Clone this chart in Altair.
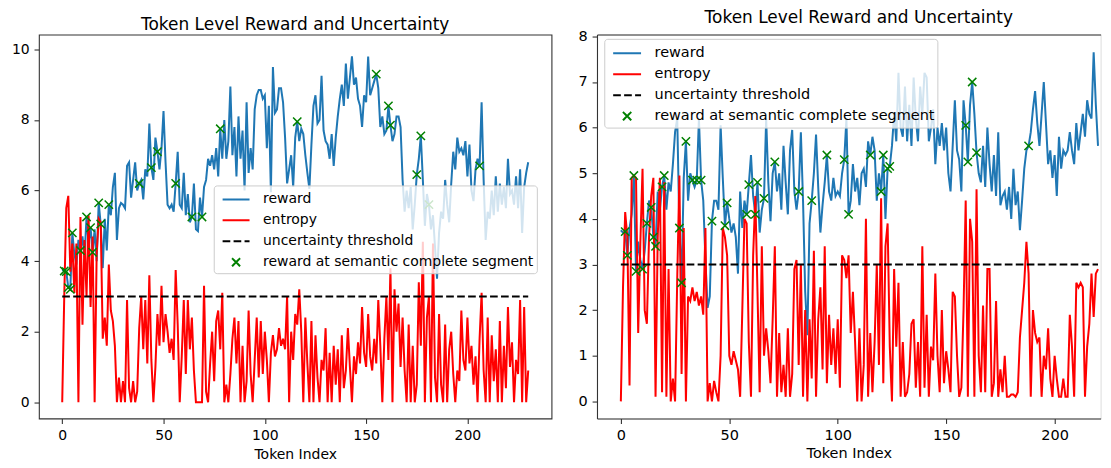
import altair as alt
import pandas as pd

# ---------------- data ----------------
L_REWARD = [
    3.75, 3.72, 3.70, 3.25, 3.20, 4.80, 4.20, 3.90, 4.60, 4.30,
    4.70, 4.10, 5.25, 4.50, 4.95, 4.25, 4.90, 4.00, 5.65, 5.05,
    3.80, 5.20, 4.30, 5.60, 5.30, 6.10, 6.50, 4.60, 5.50, 5.65,
    5.60, 5.50, 6.70, 6.80, 5.80, 6.30, 6.80, 6.00, 6.20, 6.30,
    5.75, 6.60, 6.40, 7.90, 6.65, 6.30, 7.50, 7.10, 6.60, 7.20,
    8.25, 6.80, 5.60, 5.50, 5.60, 5.40, 6.20, 7.10, 5.60, 5.50,
    6.50, 5.30, 5.90, 5.10, 5.25, 6.20, 4.90, 4.85, 5.80, 5.25,
    6.10, 6.30, 6.90, 6.70, 7.00, 6.60, 7.20, 6.40, 7.75, 6.90,
    8.00, 6.90, 7.40, 8.95, 7.00, 7.80, 6.40, 8.10, 6.90, 7.70,
    6.00, 8.50, 6.50, 7.20, 6.60, 8.30, 8.70, 8.85, 8.85, 8.60,
    8.70, 7.20, 8.40, 5.95, 9.50, 8.20, 8.30, 8.90, 8.90, 8.50,
    7.50, 6.20, 6.60, 7.00, 6.10, 7.50, 7.95, 7.40, 7.75, 7.60,
    7.00, 6.50, 6.05, 7.30, 8.40, 8.70, 7.90, 8.00, 9.25, 7.70,
    7.40, 7.30, 6.90, 7.60, 6.70, 7.50, 8.10, 8.60, 9.00, 8.40,
    9.60, 8.60, 9.20, 9.80, 9.00, 9.20, 8.60, 8.40, 7.80, 8.70,
    8.50, 9.80, 8.70, 8.90, 9.10, 9.30, 8.90, 7.80, 8.10, 7.60,
    7.70, 8.40, 7.85, 7.40, 7.60, 8.10, 8.10, 7.80, 6.30, 5.40,
    6.00, 5.50, 6.10, 4.90, 5.60, 6.45, 6.90, 7.55, 6.30, 5.00,
    5.90, 5.60, 4.90, 5.30, 4.40, 3.50, 4.80, 5.40, 5.20, 6.30,
    5.60, 5.10, 6.20, 7.10, 6.60, 7.50, 7.10, 7.20, 7.00, 7.40,
    6.40, 7.30, 6.00, 5.70, 6.60, 6.90, 6.70, 8.50, 6.30, 4.60,
    5.40, 5.20, 6.00, 5.30, 6.40, 5.40, 6.20, 5.60, 6.10, 5.50,
    6.90, 5.90, 6.00, 5.60, 6.40, 5.50, 6.60, 4.80, 6.10, 6.50,
    6.80,
]
L_ENTROPY = [
    0.00, 3.00, 5.50, 5.85, 3.70, 4.50, 3.10, 4.50, 0.00, 5.25,
    2.20, 4.60, 3.00, 5.30, 2.70, 4.70, 0.00, 4.20, 5.20, 5.10,
    1.80, 2.40, 1.60, 3.90, 2.60, 2.30, 1.60, 0.00, 0.70, 0.00,
    0.60, 0.00, 2.90, 0.40, 0.00, 0.60, 0.00, 0.30, 2.10, 3.00,
    1.50, 2.90, 1.10, 3.60, 1.20, 0.00, 1.00, 2.50, 1.60, 3.30,
    1.70, 2.50, 2.00, 1.40, 1.80, 1.20, 3.75, 2.20, 0.00, 1.30,
    2.90, 0.80, 2.90, 1.50, 2.40, 0.90, 0.00, 0.00, 0.00, 0.00,
    3.30, 0.30, 0.00, 1.10, 2.00, 0.60, 2.30, 2.60, 1.50, 3.10,
    0.00, 0.50, 0.00, 0.80, 1.80, 2.40, 1.10, 2.30, 0.00, 1.60,
    0.00, 0.60, 2.60, 0.80, 0.00, 1.20, 2.40, 0.70, 2.30, 0.80,
    2.00, 1.20, 0.00, 1.40, 1.90, 1.30, 1.50, 2.10, 1.60, 1.80,
    1.50, 3.00, 0.00, 2.00, 1.20, 2.50, 2.20, 3.20, 2.00, 0.00,
    2.40, 1.10, 0.00, 2.30, 0.00, 1.90, 0.70, 0.00, 1.20, 0.90,
    2.10, 0.00, 1.40, 0.00, 1.60, 0.50, 1.50, 0.00, 1.90, 0.40,
    0.90, 2.10, 1.00, 0.00, 1.30, 0.80, 1.70, 1.10, 2.70, 1.40,
    1.00, 2.50, 1.30, 0.90, 1.80, 1.10, 2.90, 1.60, 0.00, 1.80,
    3.00, 1.20, 3.80, 0.00, 3.20, 2.00, 2.80, 1.00, 2.40, 0.90,
    0.00, 2.20, 0.00, 1.60, 0.00, 0.50, 3.40, 1.60, 4.55, 0.00,
    2.40, 3.00, 0.00, 4.50, 0.70, 0.00, 2.50, 0.50, 0.00, 2.20,
    0.00, 1.50, 2.00, 0.80, 0.00, 0.90, 0.60, 2.60, 1.20, 0.90,
    2.40, 1.10, 1.60, 0.50, 1.30, 0.00, 1.80, 3.10, 0.90, 0.00,
    2.40, 0.00, 1.90, 0.60, 1.50, 0.00, 2.30, 0.00, 1.60, 0.40,
    2.70, 1.00, 1.70, 0.00, 1.20, 0.80, 2.90, 0.00, 2.70, 0.00,
    0.90,
]
L_MARKS = [1, 2, 3, 4, 5, 9, 12, 14, 15, 18, 19, 23, 38, 44, 47, 56, 64, 69,
           78, 116, 155, 161, 162, 175, 177, 181, 206]

R_REWARD = [
    3.75, 3.70, 3.72, 3.20, 3.80, 4.10, 4.95, 2.85, 3.50, 3.10,
    2.90, 3.30, 3.90, 4.40, 4.25, 3.60, 3.40, 4.60, 4.20, 4.70,
    4.95, 4.20, 4.80, 4.60, 5.20, 5.90, 6.20, 3.80, 2.60, 4.90,
    5.70, 4.40, 5.00, 4.85, 4.70, 4.85, 6.20, 4.85, 4.40, 3.10,
    2.05, 2.30, 3.95, 4.40, 4.40, 4.20, 6.05, 4.90, 3.85, 4.35,
    4.00, 3.70, 3.90, 3.60, 2.80, 4.60, 3.80, 4.40, 4.10, 4.75,
    5.40, 4.50, 4.10, 4.80, 3.70, 4.20, 4.45, 6.20, 4.80, 3.95,
    5.00, 5.25, 4.60, 5.00, 4.20, 5.60, 4.80, 4.10, 5.50, 5.95,
    4.60, 4.20, 4.60, 5.90, 4.40, 2.40, 1.45, 3.90, 4.40, 5.00,
    5.85, 4.70, 3.70, 4.30, 4.80, 5.40, 4.60, 4.40, 4.90, 4.50,
    4.60, 4.50, 5.00, 5.30, 6.20, 4.10, 4.40, 5.20, 4.60, 4.90,
    4.30, 5.00, 5.10, 4.70, 5.70, 5.40, 5.80, 5.50, 4.40, 5.00,
    4.60, 5.40, 4.00, 5.10, 5.15, 5.60, 6.30, 5.70, 7.20, 6.00,
    5.80, 6.90, 5.70, 6.50, 5.60, 7.10, 6.20, 5.70, 6.90, 6.30,
    7.20, 7.10, 5.70, 6.00, 6.40, 5.20, 6.00, 5.60, 6.10, 5.50,
    6.00, 5.00, 4.60, 5.60, 6.60, 5.50, 5.30, 4.60, 6.60, 6.05,
    5.25, 6.50, 7.00, 6.30, 5.45, 5.00, 4.80, 5.60, 4.70, 6.00,
    5.20, 4.60, 5.40, 4.50, 5.90, 4.30, 4.50, 4.60, 4.20, 4.70,
    4.00, 5.10, 4.30, 4.60, 3.75, 4.40, 5.10, 5.50, 5.60, 5.90,
    6.40, 6.80, 6.10, 5.60, 6.30, 7.00, 6.10, 5.20, 5.50, 4.90,
    5.40, 4.50, 5.80, 5.10, 5.50, 5.40, 5.50, 5.90, 5.50, 5.20,
    6.10, 5.50, 5.90, 6.30, 5.80, 6.60, 6.30, 6.20, 7.65, 6.50,
    5.60,
]
R_ENTROPY = [
    0.00, 2.50, 4.15, 3.60, 0.35, 4.90, 4.95, 4.90, 1.50, 3.50,
    5.10, 2.00, 1.70, 3.60, 4.50, 4.90, 0.10, 3.60, 4.90, 0.20,
    4.80, 0.10, 2.90, 0.00, 0.50, 0.00, 2.70, 4.95, 0.60, 3.80,
    0.00, 2.30, 2.20, 2.50, 2.20, 2.40, 2.10, 2.30, 1.90, 3.80,
    0.00, 0.40, 0.00, 0.45, 0.20, 0.00, 1.00, 3.80, 3.60, 3.20,
    1.00, 0.80, 1.10, 0.90, 0.70, 0.10, 2.00, 4.00, 3.90, 1.30,
    0.10, 3.20, 4.50, 2.40, 0.20, 3.40, 1.00, 1.60, 1.10, 0.40,
    1.80, 3.40, 0.10, 1.50, 0.20, 0.80, 0.10, 1.60, 0.10, 0.60,
    2.90, 3.10, 0.80, 3.00, 0.10, 2.00, 0.00, 1.80, 0.50, 3.30,
    0.10, 1.80, 2.50, 0.70, 3.40, 0.40, 1.90, 0.80, 1.60, 0.60,
    1.80, 0.30, 3.20, 3.10, 2.70, 3.20, 1.50, 2.40, 1.30, 0.00,
    1.60, 0.00, 0.80, 4.00, 0.10, 1.50, 0.20, 1.30, 3.00, 0.80,
    4.45, 0.40, 3.40, 3.90, 1.20, 0.00, 2.90, 1.20, 2.60, 0.10,
    1.30, 0.10, 0.20, 0.60, 1.70, 1.80, 0.30, 1.30, 0.10, 3.40,
    0.30, 1.90, 0.10, 1.20, 0.90, 2.80, 1.00, 0.20, 2.00, 0.40,
    1.10, 0.70, 0.20, 2.40, 2.30, 1.00, 0.10, 0.30, 2.00, 4.40,
    0.10, 4.00, 3.50, 0.10, 4.65, 1.00, 0.20, 2.10, 0.20, 2.90,
    2.90, 0.10, 0.40, 2.20, 0.10, 0.70, 0.20, 1.00, 0.10, 0.10,
    0.15, 0.15, 0.10, 0.20, 1.40, 2.00, 2.60, 3.50, 2.80, 0.10,
    2.00, 1.50, 1.30, 1.40, 0.10, 1.00, 0.70, 1.60, 0.50, 0.10,
    1.00, 0.50, 0.10, 0.10, 0.50, 0.10, 0.10, 1.90, 1.20, 0.10,
    2.60, 2.50, 2.60, 2.50, 0.10, 1.20, 1.70, 2.80, 1.85, 2.80,
    2.90,
]
R_MARKS = [2, 3, 6, 7, 10, 12, 14, 15, 16, 19, 20, 27, 28, 30, 33, 35, 37, 42,
           48, 49, 58, 59, 62, 63, 66, 71, 82, 88, 95, 103, 105, 115, 120, 121,
           123, 124, 159, 160, 162, 164, 188]

THRESHOLD = 3.0
TITLE = "Token Level Reward and Uncertainty"
X_TITLE = "Token Index"
X_TICKS = [0, 50, 100, 150, 200]
L_Y_TICKS = [0, 2, 4, 6, 8, 10]
R_Y_TICKS = [0, 1, 2, 3, 4, 5, 6, 7, 8]

SERIES = ["reward", "entropy", "uncertainty threshold",
          "reward at semantic complete segment"]
COLORS = ["#1f77b4", "#ff0000", "#000000", "#008000"]

# ---------------- styling ----------------
FONT = "DejaVu Sans"
LINE_SYM = "M-1.33,0H1.33"
X_SYM = "M-0.4,-0.4L0.4,0.4M0.4,-0.4L-0.4,0.4"
SHAPES = [LINE_SYM, LINE_SYM, LINE_SYM, X_SYM]
DASHES = [[1, 0], [1, 0], [7.7, 3.3], [1, 0]]
AX = "#333333"


def panel(reward, entropy, marks, xdom, ydom, yticks, w, h, lx, ly, fs,
          title_dx, title_offset, framed):
    df_r = pd.DataFrame({"i": list(range(len(reward))), "v": reward,
                         "series": SERIES[0]})
    df_e = pd.DataFrame({"i": list(range(len(entropy))), "v": entropy,
                         "series": SERIES[1]})
    df_t = pd.DataFrame({"i": [0], "i2": [max(len(reward), len(entropy)) - 1],
                         "v": [THRESHOLD], "series": [SERIES[2]]})
    df_m = pd.DataFrame({"i": marks, "v": [reward[k] for k in marks],
                         "series": SERIES[3]})

    sym = fs * 1.45
    leg = alt.Legend(
        title=None, orient="none", legendX=lx, legendY=ly,
        labelFont=FONT, labelFontSize=fs, labelColor="#000000", labelLimit=600,
        symbolSize=sym * sym, symbolStrokeWidth=2, symbolOpacity=1,
        symbolOffset=8.4, labelOffset=15.5, padding=2.5, rowPadding=2,
        fillColor="rgba(255,255,255,0.8)", strokeColor="#cccccc",
        cornerRadius=3,
    )
    color = alt.Color("series:N", scale=alt.Scale(domain=SERIES, range=COLORS),
                      legend=leg)
    shape = alt.Shape("series:N", scale=alt.Scale(domain=SERIES, range=SHAPES),
                      legend=leg)
    dash = alt.StrokeDash("series:N",
                          scale=alt.Scale(domain=SERIES, range=DASHES),
                          legend=leg)

    xs = alt.Scale(domain=xdom, nice=False, zero=False)
    ys = alt.Scale(domain=ydom, nice=False, zero=False)
    common = dict(labelFont=FONT, labelFontSize=fs, labelColor="#000000",
                  labelPadding=4.9, tickSize=4.9, tickColor=AX, tickWidth=1.1,
                  grid=False, domain=not framed, domainColor=AX,
                  domainWidth=1.1)
    xax = alt.Axis(values=X_TICKS, title=X_TITLE, titleFont=FONT,
                   titleFontSize=fs, titleFontWeight="normal",
                   titleColor="#000000", titlePadding=5, labelFlush=False,
                   orient="bottom", **common)
    yax = alt.Axis(values=yticks, title=None, orient="left", **common)
    top_ax = alt.Axis(orient="top", labels=False, ticks=False, title=None,
                      grid=False, domain=True, domainColor=AX,
                      domainWidth=1.1)

    if framed:
        ax_r, ax_e, ax_o = xax, xax, xax
    else:
        ax_r, ax_e, ax_o = xax, top_ax, None

    l_r = alt.Chart(df_r).mark_line(strokeWidth=2).encode(
        x=alt.X("i:Q", scale=xs, axis=ax_r, title=X_TITLE),
        y=alt.Y("v:Q", scale=ys, axis=yax, title=None),
        color=color,
    )
    l_e = alt.Chart(df_e).mark_line(strokeWidth=2).encode(
        x=alt.X("i:Q", scale=xs, axis=ax_e, title=X_TITLE),
        y=alt.Y("v:Q", scale=ys, axis=yax, title=None),
        color=color,
    )
    rule = alt.Chart(df_t).mark_rule(strokeWidth=2).encode(
        x=alt.X("i:Q", scale=xs, axis=ax_o, title=X_TITLE),
        x2="i2:Q",
        y=alt.Y("v:Q", scale=ys, axis=yax, title=None),
        color=color,
        strokeDash=dash,
    )
    pts = alt.Chart(df_m).mark_point(filled=False, size=433, strokeWidth=1.5,
                                     opacity=1).encode(
        x=alt.X("i:Q", scale=xs, axis=ax_o, title=X_TITLE),
        y=alt.Y("v:Q", scale=ys, axis=yax, title=None),
        color=color,
        shape=shape,
    )
    title = alt.TitleParams(text=TITLE, font=FONT, fontSize=17,
                            fontWeight="normal", color="#000000",
                            offset=title_offset, dx=title_dx)
    lay = alt.layer(l_r, l_e, rule, pts).properties(width=w, height=h,
                                                    title=title)
    if framed:
        lay = lay.properties(view=alt.ViewBackground(stroke=AX,
                                                     strokeWidth=1.1))
    else:
        lay = lay.resolve_axis(x="independent")
    return lay


# both plot areas span y = 33 .. 418 on the page
left = panel(L_REWARD, L_ENTROPY, L_MARKS, [-11.5, 241.5], [-0.46, 10.42],
             L_Y_TICKS, 514, 385, 175.3, 151.3, 14, 0, 0.6, True)
right = panel(R_REWARD, R_ENTROPY, R_MARKS, [-11, 221.2], [-0.375, 8.04],
              R_Y_TICKS, 505, 385, 7.3, 4.3, 14.5, 10, 1, False)

chart = alt.hconcat(left, right, spacing=45.6, bounds="flush").resolve_scale(
    color="independent", shape="independent", strokeDash="independent",
    x="independent", y="independent",
).properties(
    padding={"left": 2, "top": 0, "right": 0, "bottom": 0}
).configure_view(stroke=None).configure(font=FONT)

chart.save("out.html", embed_options={"renderer": "svg", "actions": False})
